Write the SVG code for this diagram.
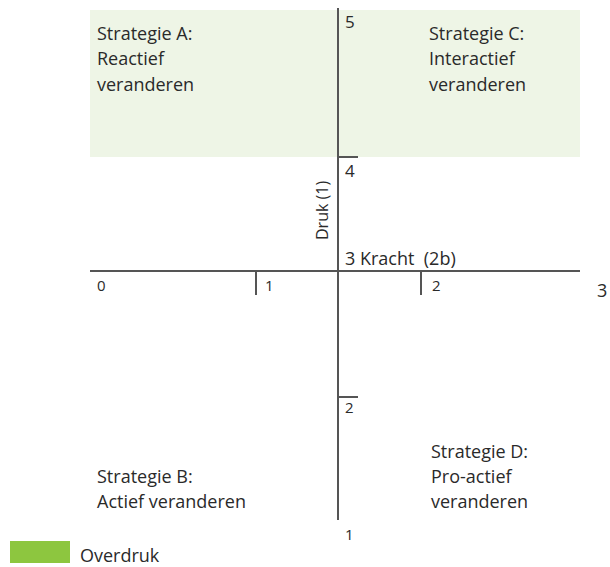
<svg xmlns="http://www.w3.org/2000/svg" width="610" height="567" viewBox="0 0 610 567">
<style>
text{font-family:"Open Sans","Liberation Sans",sans-serif;font-size:18px;fill:#2a2a2a;white-space:pre}
.n{font-size:15px}
.m{font-size:17px}
.s{font-size:16px}
.ax{stroke:#555;stroke-width:2;fill:none}
</style>
<rect width="610" height="567" fill="#fff"/>
<g id="overdruk-area"><rect x="90" y="10" width="490" height="147" fill="#eef5e6"/></g>
<g id="connectors">
<line class="ax" x1="338" y1="8" x2="338" y2="520"/>
<line class="ax" x1="90" y1="271" x2="580" y2="271"/>
<line class="ax" x1="256" y1="271" x2="256" y2="295"/>
<line class="ax" x1="421" y1="271" x2="421" y2="295"/>
<line class="ax" x1="338" y1="157" x2="358" y2="157"/>
<line class="ax" x1="338" y1="397" x2="358" y2="397"/>
</g>
<g id="strategie-a"><text x="97" y="40">Strategie A:</text><text x="97" y="65">Reactief</text><text x="97" y="91">veranderen</text></g>
<g id="strategie-c"><text x="429" y="40">Strategie C:</text><text x="429" y="65">Interactief</text><text x="429" y="91">veranderen</text></g>
<g id="strategie-b"><text x="97" y="483">Strategie B:</text><text x="97" y="508">Actief veranderen</text></g>
<g id="strategie-d"><text x="431" y="458">Strategie D:</text><text x="431" y="483">Pro-actief</text><text x="431" y="508">veranderen</text></g>
<g id="labels">
<text x="345" y="28" class="m">5</text>
<text x="345" y="177" class="m">4</text>
<text x="345" y="413" class="n">2</text>
<text x="345" y="540" class="n">1</text>
<text x="97" y="291" class="n">0</text>
<text x="265" y="291" class="n">1</text>
<text x="432" y="291" class="n">2</text>
<text x="597" y="297">3</text>
<text x="345" y="265" xml:space="preserve">3 Kracht  (2b)</text>
<text class="s" transform="translate(328,240) rotate(-90)">Druk (1)</text>
</g>
<g id="legend"><rect x="10" y="541" width="60" height="22" fill="#8dc63f"/><text x="80" y="562">Overdruk</text></g>
</svg>
